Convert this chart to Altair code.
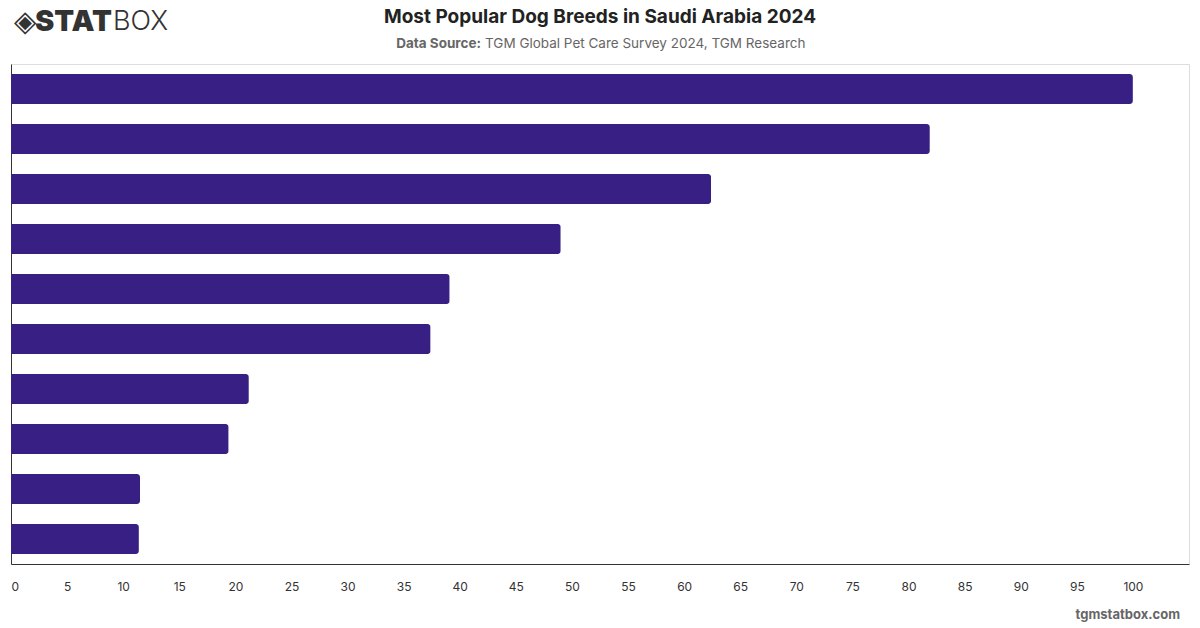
import altair as alt
import pandas as pd

ranks = ["1", "2", "3", "4", "5", "6", "7", "8", "9", "10"]
values = [100, 81.9, 62.4, 49.0, 39.1, 37.4, 21.2, 19.4, 11.5, 11.4]
x_ticks = list(range(0, 101, 5))

title = "Most Popular Dog Breeds in Saudi Arabia 2024"
sub_bold = "Data Source:"
sub_text = "TGM Global Pet Care Survey 2024, TGM Research"
footer = "tgmstatbox.com"

df = pd.DataFrame({"rank": ranks, "value": values})
one = pd.DataFrame({"a": [0]})

FONT = "Inter"
W, H = 1178, 500

bars = alt.Chart(df).mark_bar(
    color="#371F84", cornerRadiusTopRight=3, cornerRadiusBottomRight=3
).encode(
    y=alt.Y("rank:N", sort=ranks,
            scale=alt.Scale(paddingInner=0.4, paddingOuter=0.2),
            axis=alt.Axis(labels=False, ticks=False, title=None, grid=False,
                          domainColor="#333333")),
    x=alt.X("value:Q", scale=alt.Scale(domain=[0, 105], nice=False),
            axis=alt.Axis(values=x_ticks, title=None, grid=False, ticks=False,
                          labelPadding=17, domainColor="#333333",
                          labelColor="#333333", labelFontSize=12, labelFont=FONT)),
)

def txt(text, x, y, size, weight="normal", color="#222222", align="left", font=FONT):
    return alt.Chart(one).mark_text(
        align=align, baseline="middle", fontSize=size, fontWeight=weight,
        color=color, font=font
    ).encode(x=alt.value(x), y=alt.value(y), text=alt.value(text))

layers = [
    bars,
    txt(title, 589, -47, 19, "bold", "#222222", "center"),
    txt(sub_bold, 470, -20, 13.5, "bold", "#666666", "right"),
    txt(sub_text, 474, -20, 13.5, "normal", "#666666", "left"),
    txt(footer, 1169, 551, 13, "bold", "#666666", "right"),
    txt("◈", 3, -42, 29, "bold", "#333333", "left", "DejaVu Sans"),
    txt("STAT", 24, -42, 29, 900, "#333333", "left"),
    txt("BOX", 102, -42, 27, 300, "#333333", "left"),
]

chart = alt.layer(*layers).properties(
    width=W, height=H, autosize="none",
    padding={"left": 11, "top": 64, "right": 11, "bottom": 64},
).configure_view(stroke=None).configure(background="white")

chart.save("out.html", embed_options={"renderer": "svg", "actions": False})
